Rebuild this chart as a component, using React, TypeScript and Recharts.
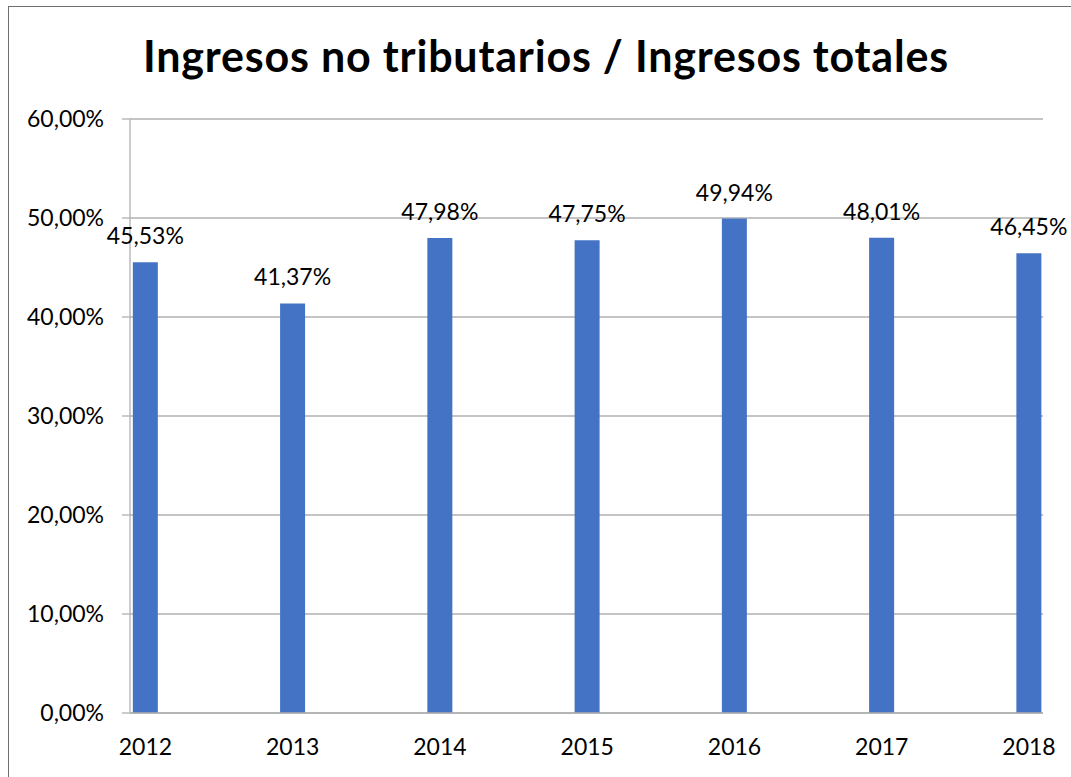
import { BarChart, Bar, XAxis, YAxis, CartesianGrid, LabelList } from "recharts";

const years = [2012, 2013, 2014, 2015, 2016, 2017, 2018];
const ratios = [0.4553, 0.4137, 0.4798, 0.4775, 0.4994, 0.4801, 0.4645];
const yTicks = [0, 0.1, 0.2, 0.3, 0.4, 0.5, 0.6];

const data = years.map((year, i) => ({ year, value: ratios[i] }));

const pct = (v: number) => (v * 100).toFixed(2).replace(".", ",") + "%";

const FONT = "Lato, 'Open Sans', sans-serif";
const GRID = "#b0b0b0";

export default function App() {
  return (
    <div style={{ position: "fixed", left: 0, top: 0, width: 1071, height: 777, overflow: "hidden", background: "#fff" }}>
      <div
        style={{
          position: "absolute",
          left: 8,
          top: 6,
          width: 1090,
          height: 800,
          border: "1.5px solid #6e6e6e",
        }}
      />
      <div
        style={{
          position: "absolute",
          left: 0,
          width: 1092,
          top: 34,
          textAlign: "center",
          fontFamily: FONT,
          fontWeight: 700,
          fontSize: 43,
          letterSpacing: 0.8,
          lineHeight: 1,
          color: "#000",
        }}
      >
        Ingresos no tributarios / Ingresos totales
      </div>
      <div style={{ position: "absolute", left: 0, top: 0 }}>
        <BarChart width={1071} height={777} data={data} margin={{ top: 119, right: 28, bottom: 34, left: 0 }}>
          <CartesianGrid vertical={false} stroke={GRID} strokeWidth={1.3} />
          <XAxis
            dataKey="year"
            type="number"
            height={30}
            domain={[2011.895, 2018.095]}
            ticks={years}
            tickLine={false}
            tickMargin={20}
            axisLine={{ stroke: GRID, strokeWidth: 1.3 }}
            tick={{ fill: "#000", fontSize: 23, fontFamily: FONT }}
            allowDataOverflow
          />
          <YAxis
            width={130}
            domain={[0, 0.6]}
            ticks={yTicks}
            tickFormatter={pct}
            tickSize={8}
            tickMargin={18}
            axisLine={{ stroke: GRID, strokeWidth: 1.3 }}
            tickLine={{ stroke: GRID, strokeWidth: 1.3 }}
            tick={{ fill: "#000", fontSize: 23, fontFamily: FONT }}
          />
          <Bar dataKey="value" fill="#4472c4" barSize={25} isAnimationActive={false}>
            <LabelList
              dataKey="value"
              position="top"
              offset={18}
              formatter={(v: any) => pct(Number(v))}
              style={{ fill: "#000", fontSize: 23, fontFamily: FONT }}
            />
          </Bar>
        </BarChart>
      </div>
    </div>
  );
}
